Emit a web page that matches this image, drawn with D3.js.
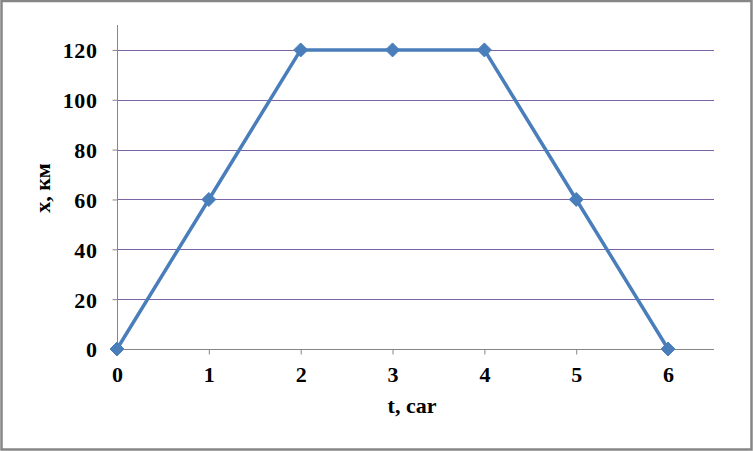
<!DOCTYPE html>
<html>
<head>
<meta charset="utf-8">
<script src="https://cdn.jsdelivr.net/npm/d3@7"></script>
<style>
  body { margin: 0; background: #fff; }
  text { font-family: "Liberation Serif", "Times New Roman", serif; font-weight: bold; fill: #000; }
</style>
</head>
<body>
<div id="chart"></div>
<script>
// data
var times = [0, 1, 2, 3, 4, 5, 6];
var distances = [0, 60, 120, 120, 120, 60, 0];
var xTicks = [0, 1, 2, 3, 4, 5, 6];
var yTicks = [0, 20, 40, 60, 80, 100, 120];

var width = 753, height = 451;
var margin = {top: 25, right: 39, bottom: 102, left: 117};

var svg = d3.select("#chart").append("svg")
    .attr("width", width)
    .attr("height", height);

// outer frame
svg.append("rect")
    .attr("x", 1.5).attr("y", 1)
    .attr("width", width - 3).attr("height", height - 2.5)
    .attr("fill", "#fff")
    .attr("stroke", "#868686")
    .attr("stroke-width", 2.5);

var x = d3.scaleLinear().domain([0, 6.5]).range([margin.left, width - margin.right]);
var y = d3.scaleLinear().domain([0, 130]).range([height - margin.bottom, margin.top]);

// gridlines
svg.append("g")
  .selectAll("line")
  .data(yTicks.filter(function(d){ return d > 0; }))
  .enter().append("line")
    .attr("x1", x(0)).attr("x2", x(6.5))
    .attr("y1", function(d){ return Math.round(y(d)) + 0.5; })
    .attr("y2", function(d){ return Math.round(y(d)) + 0.5; })
    .attr("stroke", "#7b63a3")
    .attr("stroke-width", 1);

// y axis
var yAxis = svg.append("g")
    .attr("transform", "translate(" + (Math.round(x(0)) + 0.5) + ",0)")
    .call(d3.axisLeft(y).tickValues(yTicks).tickSize(5).tickPadding(15));
yAxis.select(".domain").attr("stroke", "#868686").attr("d", "M0," + y(130) + "V" + y(0));
yAxis.selectAll(".tick line").attr("stroke", "#868686");
yAxis.selectAll("text").style("font-size", "22px").style("letter-spacing", "0.6px").attr("dy", "0.36em");

// x axis
var xAxis = svg.append("g")
    .attr("transform", "translate(0," + (Math.round(y(0)) + 0.5) + ")")
    .call(d3.axisBottom(x).tickValues(xTicks).tickSize(5).tickPadding(12).tickFormat(d3.format("d")));
xAxis.select(".domain").attr("stroke", "#868686").attr("d", "M" + x(0) + ",0H" + x(6.5));
xAxis.selectAll(".tick line").attr("stroke", "#868686");
xAxis.selectAll("text").style("font-size", "22px");

// axis titles
svg.append("text")
    .attr("x", 412).attr("y", 413)
    .attr("text-anchor", "middle")
    .style("font-size", "22px")
    .text("t, car");

svg.append("text")
    .attr("transform", "translate(50,188) rotate(-90)")
    .attr("text-anchor", "middle")
    .style("font-size", "22px")
    .text("x, км");

// series
var pts = times.map(function(t, i){ return [t, distances[i]]; });

svg.append("path")
    .datum(pts)
    .attr("fill", "none")
    .attr("stroke", "#4a7ebb")
    .attr("stroke-width", 3.5)
    .attr("stroke-linejoin", "round")
    .attr("d", d3.line().x(function(d){ return x(d[0]); }).y(function(d){ return y(d[1]); }));

svg.append("g")
  .selectAll("path")
  .data(pts)
  .enter().append("path")
    .attr("transform", function(d){ return "translate(" + x(d[0]) + "," + y(d[1]) + ")"; })
    .attr("d", "M0,-7L7,0L0,7L-7,0Z")
    .attr("fill", "#4a7ebb")
    .attr("stroke", "#4a7ebb")
    .attr("stroke-width", 1);
</script>
</body>
</html>
